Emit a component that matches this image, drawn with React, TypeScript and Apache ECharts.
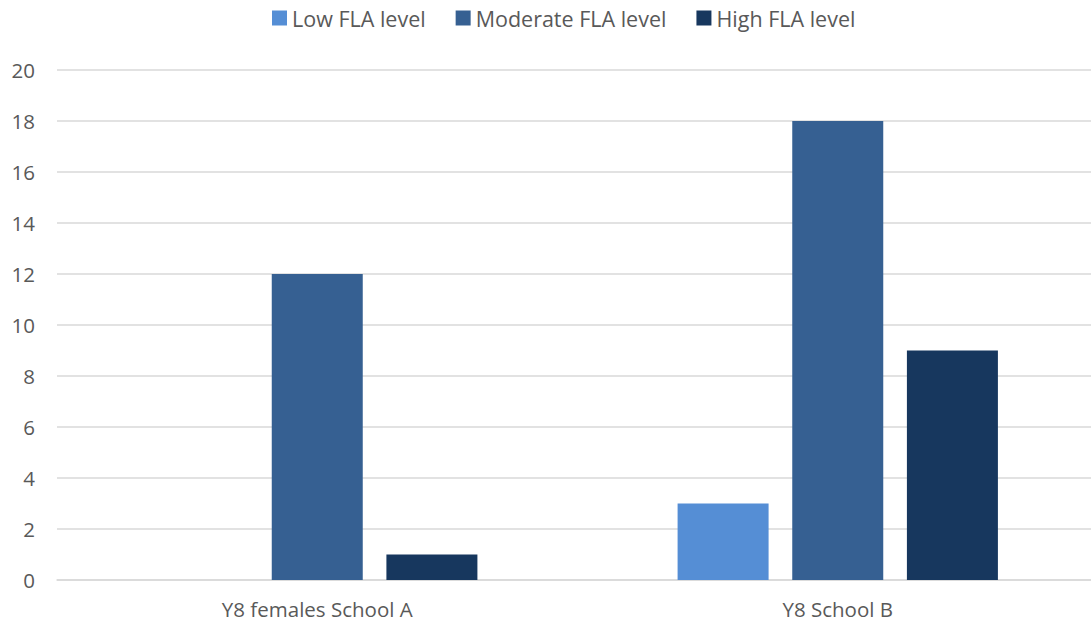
import React, { useEffect, useRef } from "react";
import * as echarts from "echarts";

const categories = ["Y8 females School A", "Y8 School B"];
const seriesNames = ["Low FLA level", "Moderate FLA level", "High FLA level"];
const lowValues = [0, 3];
const moderateValues = [12, 18];
const highValues = [1, 9];
const colors = ["#558ED5", "#366092", "#17375E"];

export default function App() {
  const ref = useRef<HTMLDivElement>(null);
  useEffect(() => {
    if (!ref.current) return;
    const chart = echarts.init(ref.current, null, { renderer: "svg" });
    const font = "Open Sans";
    const dataSets = [lowValues, moderateValues, highValues];
    chart.setOption({
      animation: false,
      textStyle: { fontFamily: font },
      legend: {
        top: 2,
        left: 267,
        itemWidth: 15,
        itemHeight: 15,
        itemGap: 30,
        icon: "rect",
        textStyle: { fontSize: 21.5, color: "#595959", fontFamily: font },
        data: seriesNames,
      },
      grid: { left: 57, top: 70, width: 1041, height: 510, containLabel: false },
      xAxis: {
        type: "category",
        data: categories,
        axisLine: { lineStyle: { color: "#D9D9D9", width: 1.5 } },
        axisTick: { show: false },
        axisLabel: { fontSize: 20.5, color: "#595959", margin: 18, fontFamily: font },
      },
      yAxis: {
        type: "value",
        min: 0,
        max: 20,
        interval: 2,
        axisLine: { show: false },
        axisTick: { show: false },
        splitLine: { lineStyle: { color: "#D9D9D9", width: 1.5 } },
        axisLabel: { fontSize: 20.5, color: "#595959", margin: 22, fontFamily: font },
      },
      series: seriesNames.map((name, i) => ({
        name,
        type: "bar",
        data: dataSets[i],
        barWidth: 91,
        barGap: "26%",
        itemStyle: { color: colors[i] },
      })),
    });
    return () => chart.dispose();
  }, []);
  return (
    <div style={{ position: "absolute", left: 0, top: 0, width: 1091, height: 625, overflow: "hidden" }}>
      <div ref={ref} style={{ width: 1100, height: 625 }} />
    </div>
  );
}
